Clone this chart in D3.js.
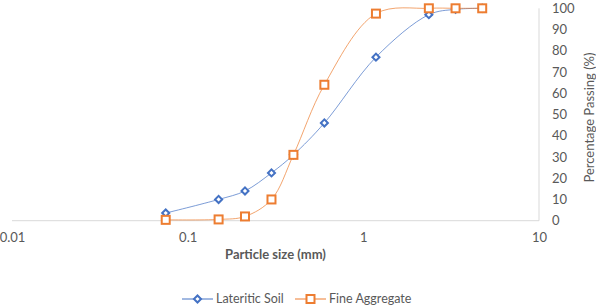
<!DOCTYPE html>
<html>
<head>
<meta charset="utf-8">
<title>Particle size distribution</title>
<script src="https://d3js.org/d3.v7.min.js"></script>
<style>
body { margin: 0; background: #fff; }
text { font-family: Lato, "Open Sans", sans-serif; fill: #595959; }
.tick text { font-size: 13px; }
.title { font-size: 13px; }
.xtitle { font-weight: bold; }
.legend text { font-size: 12.5px; }
</style>
</head>
<body>
<div id="chart"></div>
<script>
// sieve sizes (mm)
var sizes = [0.075, 0.15, 0.212, 0.3, 0.4, 0.6, 1.18, 2.36, 3.35, 4.75];
var lateritic = [3.6, 10, 14, 22.5, 31, 46, 77, 97, 99.5, 100];
var fineAgg = [0.4, 0.6, 2, 10, 31, 64, 97.5, 100, 100, 100];
var xTicks = [0.01, 0.1, 1, 10];
var yTicks = [0, 10, 20, 30, 40, 50, 60, 70, 80, 90, 100];
var seriesNames = ["Lateritic Soil", "Fine Aggregate"];
var colors = ["#4472C4", "#ED7D31"];

var W = 596, H = 308;
var plotL = 12, plotR = 539, plotT = 8.3, plotB = 220.7;

var svg = d3.select("#chart").append("svg")
  .attr("width", W)
  .attr("height", H);

var x = d3.scaleLog().domain([0.01, 10]).range([plotL, plotR]);
var y = d3.scaleLinear().domain([0, 100]).range([plotB, plotT]);

// frame lines
svg.append("line")
  .attr("x1", plotL).attr("x2", plotR)
  .attr("y1", plotB).attr("y2", plotB)
  .attr("stroke", "#d9d9d9");
svg.append("line")
  .attr("x1", plotR).attr("x2", plotR)
  .attr("y1", y(100)).attr("y2", plotB)
  .attr("stroke", "#d9d9d9");

var xAxis = d3.axisBottom(x)
  .tickValues(xTicks)
  .tickSize(0)
  .tickPadding(12)
  .tickFormat(d3.format("~g"));
svg.append("g")
  .attr("transform", "translate(0," + plotB + ")")
  .call(xAxis)
  .call(function(g) { g.select(".domain").remove(); });

var yAxis = d3.axisRight(y)
  .tickValues(yTicks)
  .tickSize(0)
  .tickPadding(13);
svg.append("g")
  .attr("transform", "translate(" + plotR + ",0)")
  .call(yAxis)
  .call(function(g) { g.select(".domain").remove(); });

svg.selectAll(".tick text").attr("fill", "#595959").style("font-family", "Lato, 'Open Sans', sans-serif");

svg.append("text")
  .attr("class", "title xtitle")
  .attr("x", (plotL + plotR) / 2)
  .attr("y", 259)
  .attr("text-anchor", "middle")
  .text("Particle size (mm)");

svg.append("text")
  .attr("class", "title")
  .attr("transform", "translate(594," + (y(50) + 3) + ") rotate(-90)")
  .attr("text-anchor", "middle")
  .text("Percentage Passing (%)");

var data = [lateritic, fineAgg];

var line = d3.line()
  .x(function(d) { return x(d[0]); })
  .y(function(d) { return y(d[1]); })
  .curve(d3.curveCatmullRom.alpha(0.5));

data.forEach(function(vals, i) {
  var pts = sizes.map(function(s, j) { return [s, vals[j]]; });
  svg.append("path")
    .datum(pts)
    .attr("d", line)
    .attr("fill", "none")
    .attr("stroke", colors[i])
    .attr("stroke-opacity", 0.7)
    .attr("stroke-width", 1);
});

// markers: fine aggregate drawn over lateritic
svg.selectAll(".dia")
  .data(sizes.map(function(s, j) { return [s, lateritic[j]]; }))
  .enter().append("rect")
  .attr("class", "dia")
  .attr("x", -2.5).attr("y", -2.5)
  .attr("width", 5).attr("height", 5)
  .attr("transform", function(d) { return "translate(" + x(d[0]) + "," + y(d[1]) + ") rotate(45)"; })
  .attr("fill", "#fff")
  .attr("stroke", colors[0])
  .attr("stroke-width", 2);

svg.selectAll(".sq")
  .data(sizes.map(function(s, j) { return [s, fineAgg[j]]; }))
  .enter().append("rect")
  .attr("class", "sq")
  .attr("x", function(d) { return x(d[0]) - 4; })
  .attr("y", function(d) { return y(d[1]) - 4; })
  .attr("width", 8).attr("height", 8)
  .attr("fill", "#fff")
  .attr("stroke", colors[1])
  .attr("stroke-width", 2);

// legend
var legX = [182, 295];
var legY = 299;
var legend = svg.selectAll(".legend")
  .data(seriesNames)
  .enter().append("g")
  .attr("class", "legend")
  .attr("transform", function(d, i) { return "translate(" + legX[i] + "," + legY + ")"; });

legend.append("line")
  .attr("x1", 0).attr("x2", 31)
  .attr("stroke", function(d, i) { return colors[i]; })
  .attr("stroke-width", 1);

legend.each(function(d, i) {
  var g = d3.select(this);
  if (i == 0) {
    g.append("rect")
      .attr("x", -2.5).attr("y", -2.5).attr("width", 5).attr("height", 5)
      .attr("transform", "translate(15.5,0) rotate(45)")
      .attr("fill", "#fff").attr("stroke", colors[0]).attr("stroke-width", 2);
  } else {
    g.append("rect")
      .attr("x", 11.5).attr("y", -4).attr("width", 8).attr("height", 8)
      .attr("fill", "#fff").attr("stroke", colors[1]).attr("stroke-width", 2);
  }
});

legend.append("text")
  .attr("x", 34)
  .attr("dy", "0.35em")
  .text(function(d) { return d; });
</script>
</body>
</html>
